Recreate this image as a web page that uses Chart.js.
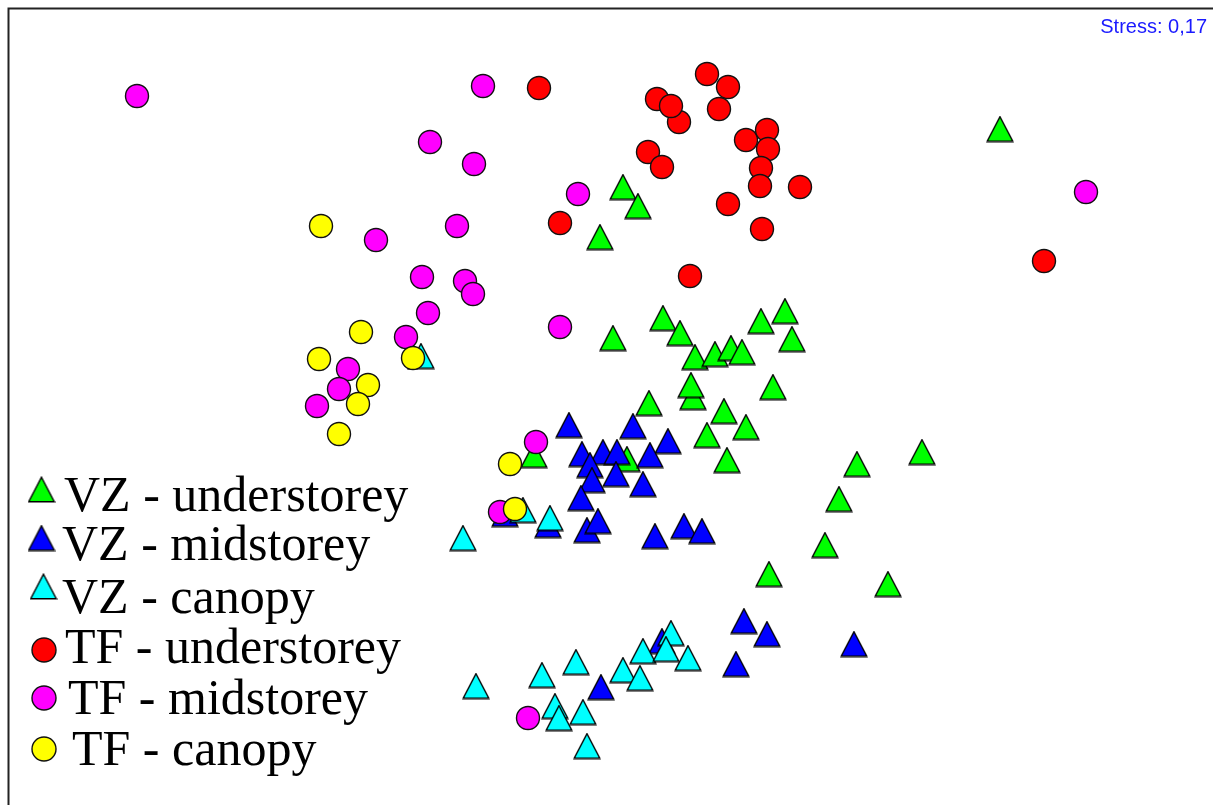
<!DOCTYPE html>
<html>
<head>
<meta charset="utf-8">
<script src="https://cdn.jsdelivr.net/npm/chart.js@4.4.1/dist/chart.umd.min.js"></script>
<style>
  html, body { margin: 0; padding: 0; background: #ffffff; }
  #wrap { position: relative; width: 1213px; height: 805px; }
  canvas { display: block; }
</style>
</head>
<body>
<div id="wrap"><canvas id="c" width="1213" height="805"></canvas></div>
<script>
// NMDS ordination scores (axis 1, axis 2)
const seriesNames = ["VZ - understorey", "VZ - midstorey", "VZ - canopy",
                     "TF - understorey", "TF - midstorey", "TF - canopy"];
const stressLabel = "Stress: 0,17";

const vzUnderstorey = [
  [0.23, 2.13], [0.38, 1.94], [0.00, 1.63], [4.00, 2.71], [0.63, 0.82],
  [0.13, 0.62], [0.80, 0.67], [0.95, 0.43], [1.15, 0.46], [1.31, 0.52],
  [1.42, 0.48], [1.61, 0.79], [1.85, 0.89], [1.92, 0.61], [0.93, 0.03],
  [0.91, 0.15], [1.73, 0.13], [0.49, -0.03], [1.24, -0.11], [1.46, -0.27],
  [1.07, -0.35], [1.27, -0.60], [-0.66, -0.55], [0.27, -0.59], [3.22, -0.52],
  [2.57, -0.64], [2.39, -0.99], [2.25, -1.45], [1.69, -1.74], [2.88, -1.84]
];
const vzMidstorey = [
  [-0.31, -0.25], [0.33, -0.26], [0.68, -0.41], [-0.18, -0.54], [0.03, -0.52],
  [0.17, -0.52], [0.50, -0.55], [-0.10, -0.65], [0.16, -0.74], [-0.08, -0.80],
  [0.43, -0.84], [-0.19, -0.98], [-0.13, -1.30], [-0.02, -1.21], [0.55, -1.36],
  [0.84, -1.26], [1.02, -1.31], [-0.52, -1.25], [-0.95, -1.14], [0.01, -2.87],
  [1.44, -2.21], [1.67, -2.34], [2.54, -2.44], [1.36, -2.64], [0.62, -2.41]
];
const vzCanopy = [
  [-1.24, -2.86], [-0.58, -2.75], [-0.24, -2.62], [0.23, -2.70], [0.40, -2.78],
  [0.43, -2.51], [0.71, -2.33], [0.66, -2.49], [0.88, -2.58], [-0.45, -3.06],
  [-0.41, -3.18], [-0.17, -3.12], [-0.13, -3.46], [-1.37, -1.38], [-1.79, 0.44],
  [-0.50, -1.18], [-0.77, -1.10]
];
const tfUnderstorey = [
  [-0.61, 3.12], [1.07, 3.26], [1.28, 3.13], [0.57, 3.01], [0.79, 2.78],
  [0.71, 2.94], [1.19, 2.91], [1.46, 2.60], [1.67, 2.70], [1.68, 2.51],
  [1.61, 2.32], [1.60, 2.14], [2.00, 2.13], [0.48, 2.48], [0.62, 2.33],
  [1.28, 1.96], [1.62, 1.71], [-0.40, 1.77], [0.90, 1.24], [4.44, 1.39]
];
const tfMidstorey = [
  [-4.63, 3.04], [-1.17, 3.14], [-1.70, 2.58], [-1.26, 2.36], [-0.22, 2.06],
  [-1.43, 1.74], [-2.24, 1.60], [-1.78, 1.23], [-1.35, 1.19], [-1.27, 1.06],
  [-1.72, 0.87], [-0.40, 0.73], [-1.94, 0.63], [-2.52, 0.31], [-2.61, 0.11],
  [-2.83, -0.06], [-0.64, -0.42], [-1.00, -1.12], [-0.72, -3.18], [4.86, 2.08]
];
const tfCanopy = [
  [-2.79, 1.74], [-2.39, 0.68], [-2.81, 0.41], [-1.87, 0.42], [-2.32, 0.15],
  [-2.42, -0.04], [-2.61, -0.34], [-0.90, -0.64], [-0.85, -1.09]
];

const colours = ["#00ff00", "#0000ff", "#00ffff", "#ff0000", "#ff00ff", "#ffff00"];

function triangleGlyph(fill) {
  const c = document.createElement('canvas');
  c.width = 28; c.height = 27;
  const g = c.getContext('2d');
  g.beginPath();
  g.moveTo(14, 1.2);
  g.lineTo(26.8, 25.8);
  g.lineTo(1.2, 25.8);
  g.closePath();
  g.fillStyle = fill;
  g.fill();
  g.lineWidth = 1.4;
  g.strokeStyle = "#000000";
  g.lineJoin = "miter";
  g.stroke();
  return c;
}
const triGlyphs = [triangleGlyph(colours[0]), triangleGlyph(colours[1]), triangleGlyph(colours[2])];

const toPts = arr => arr.map(p => ({ x: p[0], y: p[1] }));

function triSet(i, data, order) {
  return {
    label: seriesNames[i], data: toPts(data), order: order,
    pointStyle: triGlyphs[i], pointRadius: 13, pointHoverRadius: 13,
    backgroundColor: colours[i], borderColor: "#000"
  };
}
function circSet(i, data, order) {
  return {
    label: seriesNames[i], data: toPts(data), order: order,
    pointStyle: 'circle', pointRadius: 11.5, pointHoverRadius: 11.5,
    backgroundColor: colours[i], borderColor: "#111", borderWidth: 1.4, pointBorderWidth: 1.4
  };
}

const legendRows = [
  { type: 'tri', i: 0, mx: 41.5, my: 489.5, tx: 64, ty: 511 },
  { type: 'tri', i: 1, mx: 41.5, my: 538, tx: 62, ty: 560 },
  { type: 'tri', i: 2, mx: 43.5, my: 586.5, tx: 62, ty: 613 },
  { type: 'circ', i: 3, mx: 44, my: 650, tx: 65, ty: 663 },
  { type: 'circ', i: 4, mx: 44, my: 698, tx: 68, ty: 714 },
  { type: 'circ', i: 5, mx: 44, my: 749, tx: 72, ty: 765 }
];

const decor = {
  id: 'decor',
  beforeDraw(chart) {
    const ctx = chart.ctx;
    ctx.save();
    ctx.fillStyle = "#ffffff";
    ctx.fillRect(0, 0, chart.width, chart.height);
    ctx.restore();
  },
  afterDraw(chart) {
    const ctx = chart.ctx;
    ctx.save();
    // frame
    ctx.strokeStyle = "#222";
    ctx.lineWidth = 2;
    ctx.strokeRect(8.5, 8.5, chart.width + 20, chart.height + 20);
    // stress
    ctx.fillStyle = "#1a1aff";
    ctx.font = '20px "Liberation Sans", Arial, sans-serif';
    ctx.textAlign = 'right';
    ctx.textBaseline = 'alphabetic';
    ctx.fillText(stressLabel, 1207, 33);
    // legend
    ctx.textAlign = 'left';
    ctx.font = '50px "Liberation Serif", "Times New Roman", serif';
    legendRows.forEach(r => {
      if (r.type === 'tri') {
        const g = triGlyphs[r.i];
        ctx.drawImage(g, r.mx - g.width / 2, r.my - g.height / 2);
      } else {
        ctx.beginPath();
        ctx.arc(r.mx, r.my, 12, 0, Math.PI * 2);
        ctx.fillStyle = colours[r.i];
        ctx.fill();
        ctx.lineWidth = 1.4;
        ctx.strokeStyle = "#111";
        ctx.stroke();
      }
      ctx.fillStyle = "#000";
      ctx.fillText(seriesNames[r.i], r.tx, r.ty);
    });
    ctx.restore();
  }
};

new Chart(document.getElementById('c'), {
  type: 'scatter',
  data: {
    datasets: [
      triSet(0, vzUnderstorey, 5),
      triSet(1, vzMidstorey, 4),
      triSet(2, vzCanopy, 3),
      circSet(3, tfUnderstorey, 2),
      circSet(4, tfMidstorey, 1),
      circSet(5, tfCanopy, 0)
    ]
  },
  options: {
    responsive: false,
    animation: false,
    devicePixelRatio: 1,
    layout: { padding: 0, autoPadding: false },
    events: [],
    plugins: { legend: { display: false }, tooltip: { enabled: false }, title: { display: false } },
    scales: {
      x: { type: 'linear', display: false, min: -6.00, max: 6.13 },
      y: { type: 'linear', display: false, min: -4.05, max: 4.00 }
    }
  },
  plugins: [decor]
});
</script>
</body>
</html>
